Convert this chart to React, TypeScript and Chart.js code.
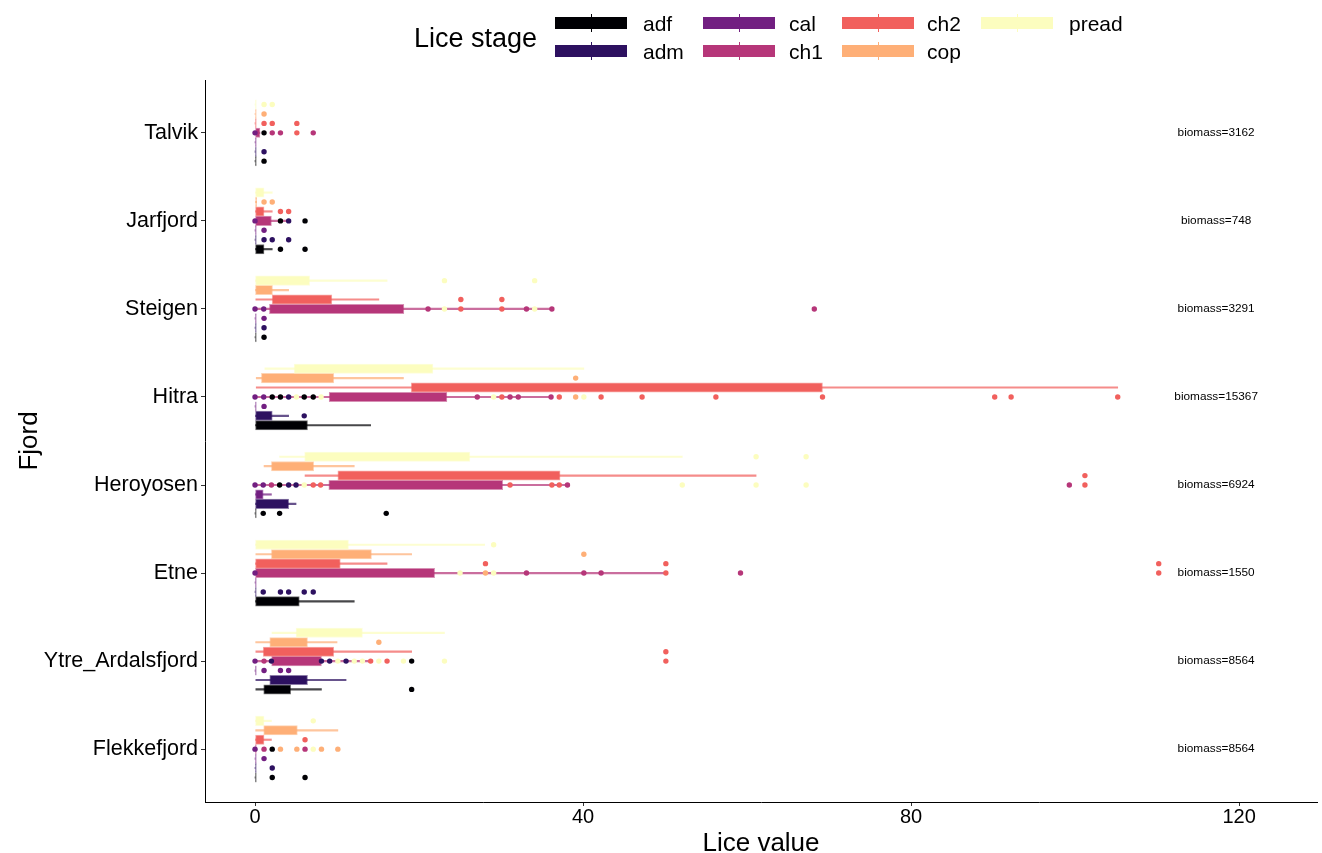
import React, { useEffect, useRef } from "react";
import { Chart, registerables } from "chart.js";

Chart.register(...registerables);

// ---------- data ----------
const fjords = ["Talvik", "Jarfjord", "Steigen", "Hitra", "Heroyosen", "Etne", "Ytre_Ardalsfjord", "Flekkefjord"];
const stages = ["adf", "adm", "cal", "ch1", "ch2", "cop", "pread"];
const stageColors = ["#000004", "#2D1160", "#721F81", "#B63679", "#F1605D", "#FEAF77", "#FCFDBF"];
const biomass = [3162, 748, 3291, 15367, 6924, 1550, 8564, 8564];
const biomassLabelX = 117.2;
const xTicks = [0, 40, 80, 120];

// [lower whisker, Q1, Q3, upper whisker] per fjord
const adfStats = [[0, 0, 0, 0], [0, 0, 1.1, 2.1], [0, 0, 0, 0], [0, 0, 6.4, 14.1], [0, 0, 0, 0], [0, 0, 5.4, 12.1], [0.1, 1.06, 4.35, 8.1], [0, 0, 0, 0]];
const admStats = [[0, 0, 0, 0], [0, 0, 0, 0], [0, 0, 0, 0], [0, 0, 2.1, 4.1], [0, 0, 4.1, 5.0], [0, 0, 0, 0], [0.1, 1.8, 6.4, 11.1], [0, 0, 0, 0]];
const calStats = [[0, 0, 0, 0], [0, 0, 0, 0], [0, 0, 0, 0], [0, 0, 0, 0], [0, 0, 1.0, 2.0], [0, 0, 0, 0], [0, 0, 0, 0], [0, 0, 0, 0]];
const ch1Stats = [[0, 0, 0.6, 0.6], [0, 0, 2.0, 4.1], [0, 1.76, 18.15, 36.2], [0, 9.04, 23.4, 36.1], [0, 9.0, 30.2, 38.1], [0, 0, 21.9, 50.1], [0, 2.03, 8.1, 14.1], [0, 0, 0, 0]];
const ch2Stats = [[0, 0, 0, 0], [0, 0, 1.1, 2.1], [0.1, 2.09, 9.37, 15.1], [0.15, 19.05, 69.2, 105.2], [6.1, 10.1, 37.2, 61.1], [0, 0, 10.4, 16.1], [0.1, 1.0, 9.6, 19.1], [0, 0, 1.1, 2.0]];
const copStats = [[0, 0, 0, 0], [0, 0, 0.2, 0.2], [0, 0, 2.13, 4.1], [0.15, 0.78, 9.6, 18.1], [1.1, 2.0, 7.15, 12.1], [0.1, 2.0, 14.2, 19.1], [0.08, 1.8, 6.4, 10.0], [0.08, 1.06, 5.16, 10.1]];
const preadStats = [[0, 0, 0, 0], [0, 0, 1.1, 2.1], [0, 0, 6.66, 16.1], [1.2, 4.77, 21.7, 40.1], [3.0, 6.05, 26.2, 52.1], [0, 0, 11.4, 28.0], [2.07, 5.0, 13.1, 23.1], [0, 0, 1.1, 2.0]];

// outliers drawn on each stage's own (dodged) row, per fjord
const adfOutliers = [[1.1], [3.1, 6.1], [1.1], [], [1.0, 3.0, 16.0], [], [19.1], [2.1, 6.1]];
const admOutliers = [[1.1], [1.1, 2.1, 4.1], [1.1], [6.0], [], [1.0, 3.1, 4.1, 6.0, 7.1], [], [2.1]];
const calOutliers = [[], [1.1], [1.1], [1.1], [], [], [1.1, 3.1, 4.1], [1.1]];
const ch1Outliers = [[], [], [68.2], [], [99.3], [59.2], [], []];
const ch2Outliers = [[1.1, 2.1, 5.1], [3.1, 4.1], [25.1, 30.1], [], [101.2], [28.1, 50.1, 110.2], [50.1], [6.1]];
const copOutliers = [[1.1], [1.1, 2.1], [], [39.1], [], [40.1], [15.1], []];
const preadOutliers = [[1.1, 2.1], [], [23.1, 34.1], [], [61.1, 67.2], [29.1], [], [7.1]];

// points drawn on the fjord's centre line (not dodged), per fjord
const adfPoints = [[1.1], [3.1, 6.1], [], [2.1, 3.1, 6.0, 7.1], [3.0], [], [19.1], [2.1]];
const admPoints = [[], [4.1], [], [4.1], [4.1, 5.0], [], [2.0, 8.1, 9.1, 11.1], []];
const calPoints = [[0], [0], [0, 1.06], [0, 1.06], [0, 1.0], [0], [0], [0]];
const ch1Points = [[2.1, 3.1, 7.1], [], [21.1, 33.1, 36.2], [27.1, 31.1, 32.1, 36.1], [2.0, 38.1], [33.1, 40.1, 42.2], [1.1], [1.1, 6.1]];
const ch2Points = [[5.1], [], [25.1, 30.1], [30.1, 37.1, 42.2, 47.2, 56.2, 69.2, 90.2, 92.2, 105.2], [7.1, 8.0, 31.1, 36.2, 37.1, 101.2], [50.1, 110.2], [14.1, 16.1, 50.1], []];
const copPoints = [[], [], [], [39.1], [], [28.1], [], [3.1, 5.1, 8.1, 10.1]];
const preadPoints = [[], [], [23.1, 34.1], [5.05, 8.06, 29.1, 40.1], [6.0, 52.1, 61.1, 67.2], [25.0, 29.1], [10.1, 12.1, 13.1, 15.1, 18.1, 23.1], [7.1]];

const allStats = [adfStats, admStats, calStats, ch1Stats, ch2Stats, copStats, preadStats];
const allOutliers = [adfOutliers, admOutliers, calOutliers, ch1Outliers, ch2Outliers, copOutliers, preadOutliers];
const allPoints = [adfPoints, admPoints, calPoints, ch1Points, ch2Points, copPoints, preadPoints];

// ---------- styling ----------
const FONT = "'Liberation Sans', Arial, Helvetica, sans-serif";
const DODGE = 0.75 / 7;
const MIN_BOX = 0.15;
const POINT_R = 2.7;

function alpha(hex: string, a: number) {
  const n = parseInt(hex.slice(1), 16);
  return `rgba(${(n >> 16) & 255},${(n >> 8) & 255},${n & 255},${a})`;
}
const rowOf = (f: number, s: number) => f + (3 - s) * DODGE;

function buildDatasets() {
  const ds: any[] = [];
  stages.forEach((name, s) => {
    const color = stageColors[s];
    const stats = allStats[s];
    ds.push({
      type: "bar",
      label: name + " whisker",
      indexAxis: "y",
      grouped: false,
      barThickness: 1.5,
      data: stats.map((b, f) => ({ y: rowOf(f, s), x: [b[0], b[3]] })),
      backgroundColor: alpha(color, 0.72),
      borderWidth: 0,
      order: 30 + (6 - s),
    });
    ds.push({
      type: "bar",
      label: name,
      indexAxis: "y",
      grouped: false,
      barThickness: 9.4,
      data: stats.map((b, f) => ({ y: rowOf(f, s), x: [b[1], Math.max(b[2], b[1] + MIN_BOX)] })),
      backgroundColor: color,
      borderColor: alpha(color, 0.55),
      borderWidth: 1,
      borderSkipped: false,
      order: 20 + (6 - s),
    });
    ds.push({
      type: "scatter",
      label: name + " outliers",
      data: allOutliers[s].flatMap((vals, f) => vals.map((v) => ({ x: v, y: rowOf(f, s) }))),
      pointRadius: POINT_R,
      pointBackgroundColor: color,
      pointBorderWidth: 0,
      order: 10 + (6 - s),
    });
    ds.push({
      type: "scatter",
      label: name + " points",
      data: allPoints[s].flatMap((vals, f) => vals.map((v) => ({ x: v, y: f }))),
      pointRadius: POINT_R,
      pointBackgroundColor: color,
      pointBorderWidth: 0,
      order: 6 - s,
    });
  });
  return ds;
}

const biomassPlugin = {
  id: "biomassLabels",
  afterDatasetsDraw(chart: any) {
    const { ctx, scales } = chart;
    ctx.save();
    ctx.font = `11.8px ${FONT}`;
    ctx.fillStyle = "#000";
    ctx.textAlign = "center";
    ctx.textBaseline = "middle";
    biomass.forEach((b, i) => {
      ctx.fillText(`biomass=${b}`, scales.x.getPixelForValue(biomassLabelX), scales.y.getPixelForValue(i));
    });
    ctx.restore();
  },
};

const legendColX = [555, 703, 842, 981];
const legendLabelX = [643, 789, 927, 1069];
const legendKeyTop = [17, 45];
const legendLabelTop = [13, 40.5];

export default function App() {
  const ref = useRef<HTMLCanvasElement>(null);

  useEffect(() => {
    const chart = new Chart(ref.current as HTMLCanvasElement, {
      type: "scatter",
      data: { datasets: buildDatasets() },
      plugins: [biomassPlugin],
      options: {
        animation: false,
        responsive: false,
        devicePixelRatio: 1,
        events: [],
        layout: { padding: { top: 80, right: 5, left: 0, bottom: 0 } },
        plugins: { legend: { display: false }, tooltip: { enabled: false } },
        scales: {
          x: {
            type: "linear",
            axis: "x",
            position: "bottom",
            min: -6.1,
            max: 129.5,
            offset: false,
            afterFit: (s: any) => { s.height = 51; },
            afterBuildTicks: (s: any) => { s.ticks = xTicks.map((v) => ({ value: v })); },
            grid: { offset: false, drawOnChartArea: false, drawTicks: true, tickLength: 4, color: "#333", lineWidth: 1 },
            border: { display: true, color: "#000", width: 1 },
            ticks: { font: { family: FONT, size: 20 }, color: "#000", padding: -1, maxRotation: 0 },
            title: { display: true, text: "Lice value", font: { family: FONT, size: 26, lineHeight: 1 }, color: "#000", padding: { top: 0, bottom: -4 } },
          },
          y: {
            type: "linear",
            axis: "y",
            position: "left",
            min: -0.6,
            max: 7.6,
            reverse: true,
            offset: false,
            afterFit: (s: any) => { s.width = 205; },
            afterBuildTicks: (s: any) => { s.ticks = fjords.map((_, i) => ({ value: i })); },
            grid: { offset: false, drawOnChartArea: false, drawTicks: true, tickLength: 4, color: "#333", lineWidth: 1 },
            border: { display: true, color: "#000", width: 1 },
            ticks: {
              font: { family: FONT, size: 21.5 },
              color: "#000",
              padding: 3,
              callback: (v: any) => fjords[v as number] ?? "",
            },
            title: { display: true, text: "Fjord", font: { family: FONT, size: 26, lineHeight: 1 }, color: "#000", padding: { top: 17, bottom: 0 } },
          },
        },
      } as any,
    });
    return () => chart.destroy();
  }, []);

  return (
    <div style={{ position: "absolute", left: 0, top: 0, width: 1322, height: 853, background: "#fff", fontFamily: FONT }}>
      <canvas ref={ref} width={1322} height={853} style={{ position: "absolute", left: 0, top: 0, width: 1322, height: 853 }} />
      <div style={{ position: "absolute", left: 414, top: 25, fontSize: 27, lineHeight: 1, color: "#000", whiteSpace: "nowrap" }}>Lice stage</div>
      {stages.map((name, s) => {
        const col = Math.floor(s / 2);
        const row = s % 2;
        const color = stageColors[s];
        return (
          <React.Fragment key={name}>
            <div
              style={{
                position: "absolute",
                left: legendColX[col],
                top: legendKeyTop[row],
                width: 72,
                height: 12,
                boxSizing: "border-box",
                background: color,
                border: `1px solid ${alpha(color, 0.55)}`,
              }}
            >
              <div style={{ position: "absolute", left: 35, top: -4, width: 1, height: 18, background: color }} />
            </div>
            <div style={{ position: "absolute", left: legendLabelX[col], top: legendLabelTop[row], fontSize: 21, lineHeight: 1, color: "#000", whiteSpace: "nowrap" }}>
              {name}
            </div>
          </React.Fragment>
        );
      })}
    </div>
  );
}
